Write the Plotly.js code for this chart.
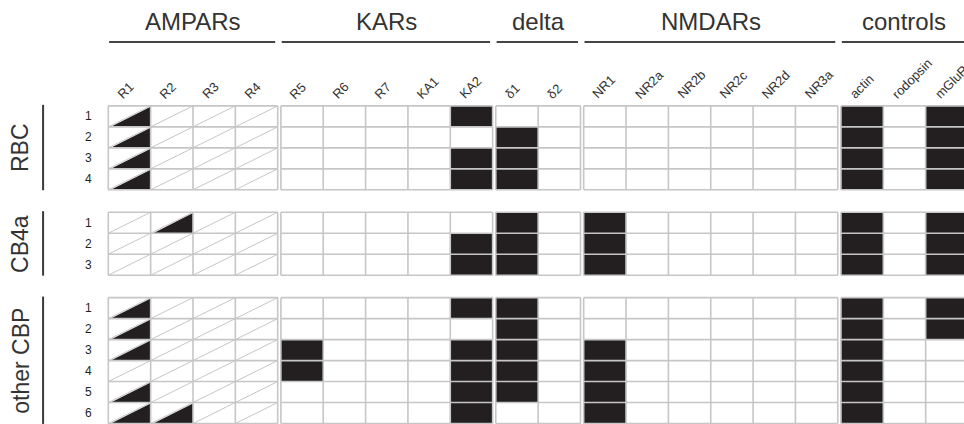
<!DOCTYPE html>
<html><head><meta charset="utf-8">
<script src="https://cdn.plot.ly/plotly-3.0.1.min.js"></script>
<style>html,body{margin:0;padding:0;background:#fff}#chart{width:964px;height:424px}</style>
</head><body><div id="chart"></div>
<script>
// ---- data ----
const groups = ['AMPARs', 'KARs', 'delta', 'NMDARs', 'controls'];
const groupSizes = [4, 5, 2, 6, 3];
const columns = ['R1','R2','R3','R4','R5','R6','R7','KA1','KA2','δ1','δ2','NR1','NR2a','NR2b','NR2c','NR2d','NR3a','actin','rodopsin','mGluR6'];
const blocks = ['RBC', 'CB4a', 'other CBP'];
// 0 = absent, 1 = present (filled), 2 = partial (half triangle)
const rbc = [
  [2,0,0,0, 0,0,0,0,1, 0,0, 0,0,0,0,0,0, 1,0,1],
  [2,0,0,0, 0,0,0,0,0, 1,0, 0,0,0,0,0,0, 1,0,1],
  [2,0,0,0, 0,0,0,0,1, 1,0, 0,0,0,0,0,0, 1,0,1],
  [2,0,0,0, 0,0,0,0,1, 1,0, 0,0,0,0,0,0, 1,0,1]
];
const cb4a = [
  [0,2,0,0, 0,0,0,0,0, 1,0, 1,0,0,0,0,0, 1,0,1],
  [0,0,0,0, 0,0,0,0,1, 1,0, 1,0,0,0,0,0, 1,0,1],
  [0,0,0,0, 0,0,0,0,1, 1,0, 1,0,0,0,0,0, 1,0,1]
];
const otherCBP = [
  [2,0,0,0, 0,0,0,0,1, 1,0, 0,0,0,0,0,0, 1,0,1],
  [2,0,0,0, 0,0,0,0,0, 1,0, 0,0,0,0,0,0, 1,0,1],
  [2,0,0,0, 1,0,0,0,1, 1,0, 1,0,0,0,0,0, 1,0,0],
  [0,0,0,0, 1,0,0,0,1, 1,0, 1,0,0,0,0,0, 1,0,0],
  [2,0,0,0, 0,0,0,0,1, 1,0, 1,0,0,0,0,0, 1,0,0],
  [2,2,0,0, 0,0,0,0,1, 0,0, 1,0,0,0,0,0, 1,0,0]
];
const blockData = [rbc, cb4a, otherCBP];
const diagGroups = ['AMPARs'];

// ---- layout helpers ----
const GAPX = 0.075, GAPY = 1.07;
const INK = '#231f20', GRID = '#c6c6c6', FONT = 'Liberation Sans, Arial, sans-serif';
const colGroup = [], colLeft = [], groupStart = [], groupEnd = [];
{
  let c = 0;
  groupSizes.forEach((n, g) => {
    groupStart.push(c + g * GAPX);
    for (let k = 0; k < n; k++) { colGroup.push(g); colLeft.push(c + g * GAPX); c++; }
    groupEnd.push(c + g * GAPX);
  });
}
const blockTop = [];
{
  let r = 0;
  blockData.forEach((b, i) => { blockTop.push(r + i * GAPY); r += b.length; });
}

// filled marks
const fx = [], fy = [];
blockData.forEach((b, bi) => {
  b.forEach((row, ri) => {
    const y0 = blockTop[bi] + ri, y1 = y0 + 1;
    row.forEach((v, ci) => {
      const x0 = colLeft[ci], x1 = x0 + 1;
      if (v === 1) { fx.push(x0, x1, x1, x0, x0, null); fy.push(y0, y0, y1, y1, y0, null); }
      else if (v === 2) { fx.push(x0 + 0.06, x1, x1, x0 + 0.06, null); fy.push(y1, y0 + 0.04, y1, y1, null); }
    });
  });
});

const shapes = [];
const line = (x0, y0, x1, y1, color, width) => shapes.push({type: 'line', xref: 'x', yref: 'y', x0, y0, x1, y1, layer: 'above', line: {color, width}});

// grid per block x group
blockData.forEach((b, bi) => {
  const top = blockTop[bi], bot = top + b.length;
  groups.forEach((gname, g) => {
    const gs = groupStart[g], ge = groupEnd[g];
    for (let r = 0; r <= b.length; r++) line(gs, top + r, ge, top + r, GRID, 1.6);
    colLeft.forEach((xl, ci) => { if (colGroup[ci] === g) line(xl, top, xl, bot, GRID, 1.6); });
    line(ge, top, ge, bot, GRID, 1.6);
    if (diagGroups.includes(gname)) {
      colLeft.forEach((xl, ci) => {
        if (colGroup[ci] !== g) return;
        for (let r = 0; r < b.length; r++) line(xl, top + r + 1, xl + 1, top + r, GRID, 1);
      });
    }
  });
  // block separator line
  line(-1.54, top - 0.05, -1.54, bot + 0.02, '#3a3a3a', 2);
});
// header lines
groups.forEach((g, i) => line(groupStart[i] + 0.02, -3.05, groupEnd[i] - 0.06, -3.05, '#444', 2));

const annotations = [];
groups.forEach((g, i) => annotations.push({
  x: (groupStart[i] + groupEnd[i]) / 2, y: -4.0, xref: 'x', yref: 'y', text: g, showarrow: false,
  xanchor: 'center', yanchor: 'middle', font: {family: FONT, size: 24, color: '#333'}
}));
columns.forEach((c, ci) => annotations.push({
  x: colLeft[ci] + 0.07, y: -0.08, xref: 'x', yref: 'y', text: c, showarrow: false, textangle: -45,
  xanchor: 'left', yanchor: 'bottom', font: {family: FONT, size: 13, color: '#333'}
}));
blockData.forEach((b, bi) => {
  b.forEach((row, ri) => annotations.push({
    x: -0.47, y: blockTop[bi] + ri + 0.5, xref: 'x', yref: 'y', text: String(ri + 1), showarrow: false,
    xanchor: 'center', yanchor: 'middle', font: {family: FONT, size: 12, color: INK}
  }));
  annotations.push({
    x: -2.08, y: blockTop[bi] + b.length / 2, xref: 'x', yref: 'y', text: blocks[bi], showarrow: false, textangle: -90,
    xanchor: 'center', yanchor: 'middle', font: {family: FONT, size: 23, color: '#333'}
  });
});

const traces = [{
  type: 'scatter', mode: 'lines', x: fx, y: fy, fill: 'toself', fillcolor: INK,
  line: {width: 0, color: INK}, hoverinfo: 'skip', showlegend: false
}];

const W = 42.35, X0 = 108.3, H = 21, Y0 = 106;
const layout = {
  width: 964, height: 424, margin: {l: 0, r: 0, t: 0, b: 0},
  paper_bgcolor: '#fff', plot_bgcolor: '#fff', showlegend: false,
  xaxis: {visible: false, range: [-X0 / W, (964 - X0) / W], fixedrange: true},
  yaxis: {visible: false, range: [(424 - Y0) / H + 0.02, -Y0 / H], fixedrange: true},
  shapes, annotations
};
Plotly.newPlot('chart', traces, layout, {staticPlot: true});
</script></body></html>
